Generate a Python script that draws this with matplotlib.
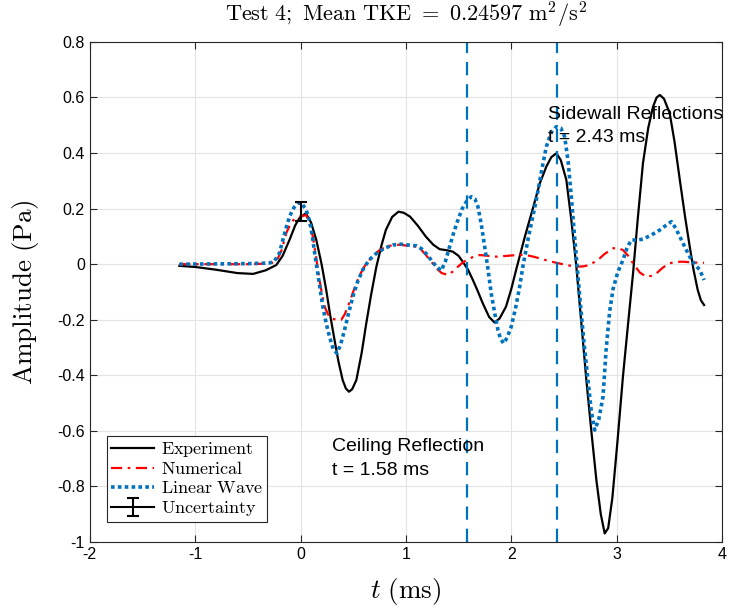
import matplotlib
matplotlib.use("Agg")
import matplotlib.pyplot as plt

# ---- data ----
t_exp = [-1.15, -1.0, -0.8, -0.6, -0.45, -0.33, -0.23, -0.17, -0.105, -0.05, -0.01, 0.05, 0.10,
         0.15, 0.20, 0.244, 0.28, 0.323, 0.36, 0.40, 0.43, 0.46, 0.49, 0.53, 0.58, 0.624, 0.67,
         0.72, 0.77, 0.81, 0.87, 0.93, 0.98, 1.04, 1.11, 1.19, 1.26, 1.32, 1.39, 1.446, 1.50,
         1.54, 1.59, 1.636, 1.68, 1.73, 1.79, 1.842, 1.89, 1.95, 2.0, 2.05, 2.13, 2.21, 2.27,
         2.333, 2.38, 2.428, 2.47, 2.523, 2.57, 2.618, 2.665, 2.713, 2.76, 2.808, 2.85, 2.887,
         2.92, 2.96, 3.01, 3.06, 3.11, 3.156, 3.2, 3.25, 3.30, 3.346, 3.38, 3.41, 3.45, 3.504,
         3.55, 3.60, 3.65, 3.694, 3.73, 3.77, 3.80, 3.83]
y_exp = [-0.006, -0.01, -0.02, -0.032, -0.035, -0.022, -0.003, 0.03, 0.087, 0.14, 0.166, 0.183,
         0.15, 0.087, 0.0, -0.093, -0.18, -0.273, -0.35, -0.417, -0.447, -0.459, -0.45, -0.417,
         -0.32, -0.213, -0.11, -0.009, 0.07, 0.123, 0.17, 0.189, 0.185, 0.171, 0.14, 0.099,
         0.07, 0.054, 0.05, 0.045, 0.03, 0.009, -0.02, -0.057, -0.095, -0.141, -0.19, -0.21,
         -0.195, -0.153, -0.09, -0.015, 0.1, 0.207, 0.29, 0.351, 0.385, 0.399, 0.375, 0.303,
         0.16, -0.009, -0.21, -0.417, -0.6, -0.777, -0.9, -0.969, -0.95, -0.84, -0.63, -0.405,
         -0.21, -0.033, 0.16, 0.363, 0.49, 0.567, 0.60, 0.609, 0.595, 0.543, 0.44, 0.303, 0.17,
         0.063, -0.02, -0.093, -0.13, -0.147]

t_num = [-1.15, -0.8, -0.5, -0.3, -0.23, -0.18, -0.136, -0.09, -0.05, 0.0, 0.054, 0.09, 0.117,
         0.15, 0.18, 0.205, 0.23, 0.26, 0.29, 0.34, 0.387, 0.42, 0.449, 0.49, 0.529, 0.575,
         0.624, 0.69, 0.75, 0.82, 0.877, 0.95, 1.035, 1.10, 1.15, 1.19, 1.24, 1.29, 1.34, 1.40,
         1.45, 1.494, 1.54, 1.59, 1.65, 1.70, 1.78, 1.86, 1.96, 2.06, 2.14, 2.21, 2.27, 2.35,
         2.428, 2.52, 2.618, 2.68, 2.744, 2.79, 2.84, 2.88, 2.918, 2.966, 3.01, 3.06, 3.11,
         3.156, 3.22, 3.28, 3.33, 3.378, 3.44, 3.50, 3.56, 3.63, 3.72, 3.83]
y_num = [0.0, 0.0, 0.0, 0.002, 0.009, 0.05, 0.111, 0.15, 0.165, 0.172, 0.177, 0.14, 0.099,
         0.02, -0.057, -0.11, -0.153, -0.18, -0.195, -0.2, -0.2, -0.18, -0.153, -0.11, -0.069,
         -0.03, 0.003, 0.03, 0.051, 0.063, 0.069, 0.07, 0.065, 0.063, 0.05, 0.033, 0.01, -0.015,
         -0.032, -0.039, -0.025, -0.009, 0.006, 0.018, 0.028, 0.033, 0.03, 0.027, 0.03, 0.033,
         0.033, 0.027, 0.021, 0.012, 0.005, -0.003, -0.009, -0.008, -0.003, 0.008, 0.021, 0.035,
         0.045, 0.057, 0.058, 0.051, 0.03, 0.003, -0.03, -0.045, -0.042, -0.033, -0.012, 0.003,
         0.008, 0.009, 0.006, 0.005]

t_lin = [-1.15, -0.5, -0.3, -0.25, -0.2, -0.168, -0.13, -0.10, -0.06, -0.03, 0.01, 0.054, 0.09,
         0.117, 0.14, 0.164, 0.19, 0.212, 0.245, 0.275, 0.31, 0.345, 0.38, 0.418, 0.457, 0.497,
         0.54, 0.59, 0.65, 0.72, 0.8, 0.877, 0.95, 1.02, 1.10, 1.15, 1.19, 1.24, 1.29, 1.336,
         1.375, 1.415, 1.455, 1.494, 1.535, 1.574, 1.62, 1.655, 1.684, 1.715, 1.748, 1.78, 1.81,
         1.845, 1.874, 1.90, 1.928, 1.96, 2.0, 2.04, 2.08, 2.11, 2.17, 2.238, 2.29, 2.333, 2.38,
         2.428, 2.47, 2.507, 2.54, 2.57, 2.61, 2.65, 2.69, 2.728, 2.76, 2.792, 2.83, 2.871,
         2.90, 2.934, 2.966, 3.01, 3.06, 3.10, 3.14, 3.20, 3.25, 3.33, 3.41, 3.47, 3.52, 3.56,
         3.60, 3.65, 3.694, 3.74, 3.79, 3.83]
y_lin = [0.0, 0.002, 0.004, 0.01, 0.04, 0.087, 0.14, 0.175, 0.205, 0.219, 0.22, 0.195, 0.15,
         0.087, 0.025, -0.033, -0.10, -0.153, -0.215, -0.261, -0.305, -0.321, -0.29, -0.237,
         -0.175, -0.117, -0.065, -0.021, 0.015, 0.039, 0.058, 0.069, 0.072, 0.069, 0.066, 0.055,
         0.039, 0.015, -0.009, -0.023, 0.01, 0.063, 0.115, 0.159, 0.2, 0.225, 0.243, 0.235,
         0.207, 0.145, 0.063, -0.02, -0.105, -0.18, -0.237, -0.27, -0.285, -0.265, -0.225,
         -0.16, -0.081, -0.009, 0.11, 0.231, 0.34, 0.423, 0.475, 0.495, 0.49, 0.459, 0.37,
         0.243, 0.06, -0.117, -0.28, -0.417, -0.53, -0.597, -0.56, -0.477, -0.31, -0.17, -0.09,
         -0.03, 0.015, 0.06, 0.087, 0.087, 0.09, 0.105, 0.123, 0.14, 0.153, 0.13, 0.099, 0.06,
         0.027, 0.0, -0.021, -0.057]

unc_t = [0.0]
unc_y = [0.19]
unc_err = [0.033]

events_t = [1.58, 2.43]
event_labels = ["Ceiling Reflection\nt = 1.58 ms", "Sidewall Reflections\nt = 2.43 ms"]
event_label_pos = [(0.295, -0.70), (2.35, 0.497)]

series_names = ["Experiment", "Numerical", "Linear\\ Wave", "Uncertainty"]

# ---- plot ----
plt.rcParams['mathtext.fontset'] = 'cm'
plt.rcParams['font.family'] = ['Liberation Sans', 'DejaVu Sans']

fig = plt.figure(figsize=(7.3, 6.07), dpi=100)
ax = fig.add_axes([0.123, 0.107, 0.866, 0.824])

blue = '#0072BD'
l1, = ax.plot(t_exp, y_exp, color='black', lw=1.6, label=r'$\mathrm{%s}$' % series_names[0])
l2, = ax.plot(t_num, y_num, color='red', lw=1.6, linestyle=(0, (5, 2.5, 1.2, 2.5)),
              label=r'$\mathrm{%s}$' % series_names[1])
l3, = ax.plot(t_lin, y_lin, color=blue, lw=2.6, linestyle=(0, (1, 0.9)),
              label=r'$\mathrm{%s}$' % series_names[2])
eb = ax.errorbar(unc_t, unc_y, yerr=unc_err, color='black', lw=1.5, capsize=4, capthick=1.5,
                 label=r'$\mathrm{%s}$' % series_names[3])

for tv in events_t:
    ax.axvline(tv, color=blue, lw=1.6, linestyle=(0, (6, 4)))

for lab, (xp, yp) in zip(event_labels, event_label_pos):
    ax.text(xp, yp, lab, fontsize=14, va='center', ha='left', color='black', linespacing=1.5)

ax.set_xlim(-2, 4)
ax.set_ylim(-1, 0.8)
ax.set_xticks([-2, -1, 0, 1, 2, 3, 4])
ax.set_yticks([-1, -0.8, -0.6, -0.4, -0.2, 0, 0.2, 0.4, 0.6, 0.8])
ax.set_yticklabels(['-1', '-0.8', '-0.6', '-0.4', '-0.2', '0', '0.2', '0.4', '0.6', '0.8'])
ax.set_xticklabels(['-2', '-1', '0', '1', '2', '3', '4'])
ax.grid(True, color='#e3e3e3', lw=0.8)
ax.set_axisbelow(True)
ax.tick_params(direction='in', top=True, right=True, length=5, width=0.8,
               labelsize=11.5, colors='#262626', labelcolor='black')
for s in ax.spines.values():
    s.set_color('#262626')
    s.set_linewidth(0.8)

ax.set_title(r'$\mathrm{Test\ 4;\ Mean\ TKE}\ =\ 0.24597\ \mathrm{m^2/s^2}$', fontsize=16, pad=15)
ax.set_ylabel(r'$\mathrm{Amplitude\ (Pa)}$', fontsize=19.5, labelpad=12)
ax.set_xlabel(r'$t\ \mathrm{(ms)}$', fontsize=19.5, labelpad=10)

leg = ax.legend(handles=[l1, l2, l3, eb], loc='lower left', bbox_to_anchor=(0.028, 0.04),
                borderaxespad=0, fancybox=False, edgecolor='#262626', fontsize=13,
                handlelength=2.4, handletextpad=0.35, labelspacing=0.12, borderpad=0.2,
                framealpha=1)
leg.get_frame().set_linewidth(0.8)

fig.savefig('out.png', dpi=100)
